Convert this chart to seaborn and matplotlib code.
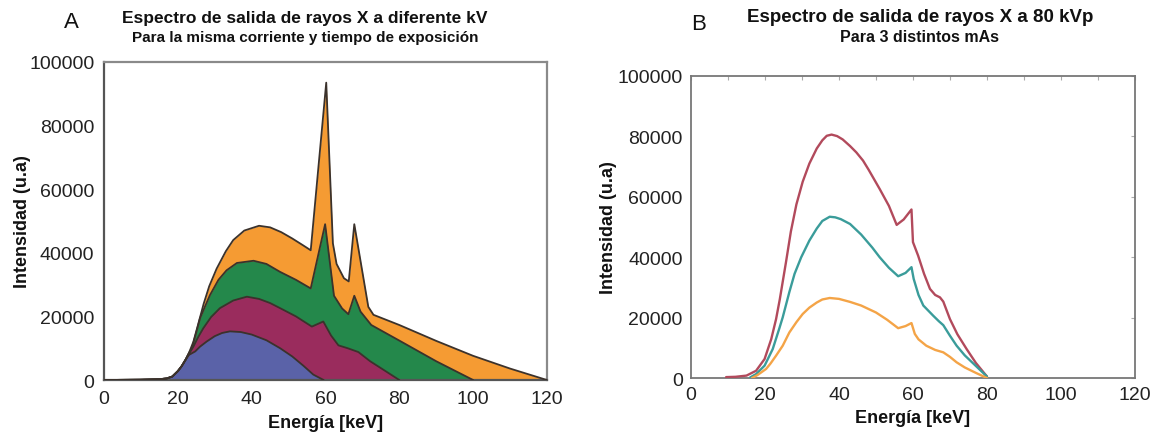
import numpy as np
import pandas as pd
import matplotlib
matplotlib.use("Agg")
import matplotlib.pyplot as plt
import seaborn as sns

# ---------------- Panel A data (keV, intensity) ----------------
E_low = [0, 10, 15, 17, 18.5, 20, 21, 22]
I_low = [0, 100, 250, 500, 1100, 2800, 4300, 6200]

E_120 = [23, 24.2, 25.5, 27, 28.5, 30.5, 33, 35, 38, 42, 45, 48, 51, 54, 56, 60.2,
         62, 63, 65, 66.3, 67.8, 71.6, 73, 80, 90, 100, 110, 120]
I_120 = [8500, 12000, 17500, 24000, 29500, 35000, 40500, 44000, 47000, 48500, 48000,
         46500, 44500, 42300, 40800, 93500, 43000, 36500, 32000, 31000, 49000, 23000,
         20500, 17300, 12300, 7600, 3600, 0]

E_100 = [23, 23.8, 25, 26, 27.5, 28.7, 31, 33.2, 36, 40.5, 44, 47.7, 52, 56, 59.9,
         62.3, 64.5, 66.2, 67.8, 69.5, 72.4, 80, 90, 100]
I_100 = [8500, 10000, 15000, 19400, 23500, 26700, 31500, 34500, 36800, 37500, 36500,
         34000, 31500, 28800, 49000, 26500, 22500, 20700, 26500, 21500, 17300, 12400,
         5900, 0]

E_80 = [23, 24.2, 25.5, 26.9, 29, 31.4, 35, 38.7, 42, 45, 47.7, 52, 56.3, 59.4, 61.5,
        63.5, 66, 68.9, 72.1, 76, 80]
I_80 = [8200, 10500, 13500, 16300, 19800, 22600, 25000, 26200, 25500, 24200, 22600,
        20000, 16800, 18400, 14000, 10900, 10000, 8800, 5900, 3000, 0]

E_60 = [23, 24.7, 26, 27.8, 30, 32, 34.1, 37, 40, 44, 47.7, 51, 54, 56.7, 59.5]
I_60 = [7900, 9000, 10500, 12100, 13800, 14800, 15300, 15100, 14300, 12500, 10000,
        7400, 4500, 1700, 0]

# ---------------- Panel B data ----------------
E_hi = [9.5, 12, 15, 17.6, 19.9, 21.7, 23, 24, 25.7, 27, 28.5, 30.2, 32, 34, 35.5, 36.7,
        38, 39.5, 41, 43, 44.7, 46.5, 48, 49.5, 51, 53.5, 55.6, 57.5, 59.6, 60, 61.4, 63,
        64.6, 66, 67.3, 68.2, 70, 72, 74.5, 77, 80]
I_hi = [300, 400, 800, 2400, 6300, 12900, 19500, 26000, 38500, 48500, 57500, 65000,
        71000, 76000, 78700, 80200, 80600, 80100, 79000, 76800, 74700, 72000, 69000,
        65800, 62600, 57000, 50700, 52500, 55800, 45000, 40500, 34500, 29500, 27500,
        26700, 25300, 19500, 14500, 9600, 5000, 500]

E_mid = [16, 17.6, 19.9, 22.1, 23.9, 24.8, 26.6, 28, 29.8, 32, 34, 35.5, 37.5, 39, 40.5,
         43, 46, 49, 51, 53.5, 56, 58, 59.6, 60.2, 61.5, 62.8, 65.5, 67, 68.2, 70, 71.8,
         74, 77, 80]
I_mid = [200, 1300, 4100, 9600, 16500, 20100, 28500, 34500, 40000, 45500, 49500, 52000,
         53400, 53200, 52600, 51000, 47500, 43200, 40000, 36500, 33700, 34800, 36700,
         32800, 27500, 24000, 20600, 18800, 17500, 14000, 10700, 7500, 4000, 500]

E_lo = [16.5, 18, 20.3, 21.5, 23, 24.8, 26.6, 28.5, 30.2, 32, 34, 35.5, 37.5, 40, 43, 46,
        50, 53, 56, 58, 59.6, 60.5, 61.5, 63.6, 66, 68.2, 70, 71.8, 74, 77, 80]
I_lo = [0, 1000, 3000, 4800, 7400, 10700, 15100, 18500, 21200, 23300, 25000, 26000,
        26500, 26200, 25200, 24000, 21700, 19300, 16500, 17200, 18200, 14600, 12800,
        10700, 9300, 8500, 7000, 5200, 3500, 1700, 0]

xticks = [0, 20, 40, 60, 80, 100, 120]
yticks = [0, 20000, 40000, 60000, 80000, 100000]

title_A = "Espectro de salida de rayos X a diferente kV"
sub_A = "Para la misma corriente y tiempo de exposición"
title_B = "Espectro de salida de rayos X a 80 kVp"
sub_B = "Para 3 distintos mAs"
xlabel = "Energía [keV]"
ylabel = "Intensidad (u.a)"

# ---------------- styling ----------------
sns.set_theme(style="white")
plt.rcParams['font.family'] = ['Liberation Sans', 'DejaVu Sans']

fig = plt.figure(figsize=(11.52, 4.35), dpi=100)
axA = fig.add_axes([0.0903, 0.1241, 0.3845, 0.7311])
axB = fig.add_axes([0.5998, 0.1287, 0.3854, 0.6943])

edge = "#3b322c"
fills = [
    ("120", E_120, I_120, "#F59B33"),
    ("100", E_100, I_100, "#24884B"),
    ("80", E_80, I_80, "#9A2C5D"),
    ("60", E_60, I_60, "#5A62A8"),
]
for name, E, I, col in fills:
    df = pd.DataFrame({"E": E_low + E, "I": I_low + I})
    axA.fill_between(df["E"], 0, df["I"], color=col, linewidth=0, zorder=2)
    sns.lineplot(data=df, x="E", y="I", ax=axA, color=edge, linewidth=1.3,
                 estimator=None, sort=False, zorder=3)

linesB = [
    ("hi", E_hi, I_hi, "#B24A5C"),
    ("mid", E_mid, I_mid, "#3A9C9A"),
    ("lo", E_lo, I_lo, "#F4A447"),
]
for name, E, I, col in linesB:
    df = pd.DataFrame({"E": E, "I": I})
    sns.lineplot(data=df, x="E", y="I", ax=axB, color=col, linewidth=1.7,
                 estimator=None, sort=False, zorder=3,
                 solid_joinstyle="round", solid_capstyle="round")

for ax in (axA, axB):
    ax.set_xlim(0, 120)
    ax.set_ylim(0, 100000)
    ax.set_xticks(xticks)
    ax.set_yticks(yticks)
    ax.set_xticklabels([str(t) for t in xticks], fontsize=14, color="#222222")
    ax.set_yticklabels([str(t) for t in yticks], fontsize=14, color="#222222")
    ax.set_facecolor("white")

axA.set_xlabel(xlabel, fontsize=13, fontweight="bold", color="#111111", labelpad=5)
axA.set_ylabel(ylabel, fontsize=13, fontweight="bold", color="#111111", labelpad=-1.5)
axB.set_xlabel(xlabel, fontsize=13, fontweight="bold", color="#111111", labelpad=4)
axB.set_ylabel(ylabel, fontsize=13, fontweight="bold", color="#111111", labelpad=0)

for s in axA.spines.values():
    s.set_color("#8a8a8a")
    s.set_linewidth(1.6)
axA.spines['left'].set_color("#555555")
axA.spines['bottom'].set_color("#555555")
axA.tick_params(axis="both", direction="out", length=4, width=1, color="#555555", pad=3)

for s in axB.spines.values():
    s.set_color("#777777")
    s.set_linewidth(1.3)
axB.set_xticks([10, 30, 50, 70, 90, 110], minor=True)
axB.tick_params(axis="both", which="both", direction="in", length=3, width=0.8,
                color="#aaaaaa", top=True, right=True, pad=6)

fig.text(305 / 1152, 1 - 18 / 435, title_A, ha="center", va="center",
         fontsize=12.5, fontweight="bold", color="#111111")
fig.text(305 / 1152, 1 - 38 / 435, sub_A, ha="center", va="center",
         fontsize=11, fontweight="bold", color="#111111")
fig.text(71 / 1152, 1 - 22 / 435, "A", ha="center", va="center",
         fontsize=16, color="#111111")

fig.text(920 / 1152, 1 - 18 / 435, title_B, ha="center", va="center",
         fontsize=13.5, fontweight="bold", color="#111111")
fig.text(920 / 1152, 1 - 38 / 435, sub_B, ha="center", va="center",
         fontsize=11.5, fontweight="bold", color="#111111")
fig.text(699 / 1152, 1 - 25 / 435, "B", ha="center", va="center",
         fontsize=16, color="#111111")

fig.savefig("out.png", dpi=100, facecolor="white")
